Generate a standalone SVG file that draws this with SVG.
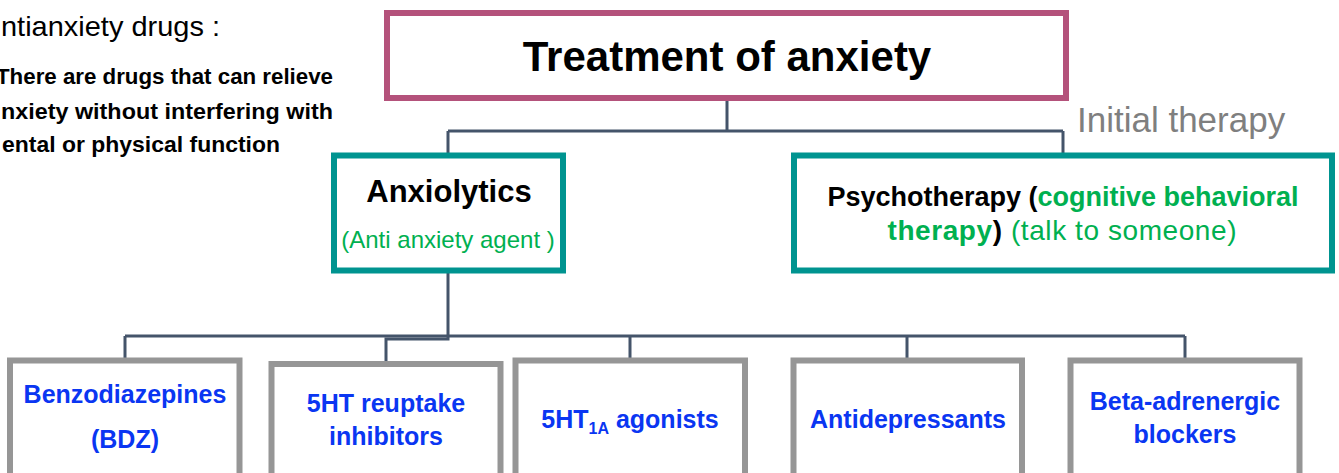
<svg xmlns="http://www.w3.org/2000/svg" width="1339" height="473" viewBox="0 0 1339 473">
<style>
text{font-family:"Liberation Sans",Arial,sans-serif}
.b{font-weight:bold}
.conn{fill:none;stroke:#44546A;stroke-width:3}
.teal{fill:#fff;stroke:#009490;stroke-width:6}
.gray{fill:#fff;stroke:#969696;stroke-width:6}
.blue{fill:#0A36F2;font-weight:bold;font-size:25px;text-anchor:middle}
.grn{fill:#00B050}
</style>
<rect width="1339" height="473" fill="#fff"/>
<g id="note">
<text x="1" y="36" font-size="28" textLength="219" lengthAdjust="spacingAndGlyphs" fill="#000">ntianxiety drugs :</text>
<text class="b" x="-4" y="84" font-size="22.5" textLength="337" lengthAdjust="spacingAndGlyphs" fill="#000">There are drugs that can relieve</text>
<text class="b" x="1" y="119" font-size="22.5" textLength="332" lengthAdjust="spacingAndGlyphs" fill="#000">nxiety without interfering with</text>
<text class="b" x="2" y="152" font-size="22.5" textLength="278" lengthAdjust="spacingAndGlyphs" fill="#000">ental or physical function</text>
</g>
<g id="connectors">
<path class="conn" d="M727,100 V131 M448,131 H1063 M448,131 V153 M1063,131 V153"/>
<path class="conn" d="M448,273 V336 M125,336 H1185 M125,336 V358 M630,336 V358 M907,336 V358 M1185,336 V358"/>
<path class="conn" d="M448,336 V339 H386 V361"/>
</g>
<g id="n-treatment">
<rect x="387" y="13" width="679" height="85" fill="#fff" stroke="#B4527B" stroke-width="6"/>
<text class="b" x="727" y="71" font-size="42" text-anchor="middle" fill="#000">Treatment of anxiety</text>
</g>
<text id="initial-therapy" x="1077" y="132" font-size="35" fill="#7F7F7F">Initial therapy</text>
<g id="n-anxiolytics">
<rect class="teal" x="334" y="155.5" width="229" height="115"/>
<text class="b" x="449" y="202" font-size="31" text-anchor="middle" fill="#000">Anxiolytics</text>
<text class="grn" x="448" y="248" font-size="24" text-anchor="middle">(Anti anxiety agent )</text>
</g>
<g id="n-psychotherapy">
<rect class="teal" x="794" y="155.5" width="538" height="115"/>
<text x="1063" y="206" font-size="27" text-anchor="middle" class="b" fill="#000">Psychotherapy (<tspan class="grn">cognitive behavioral</tspan></text>
<text x="1062" y="240" font-size="28" text-anchor="middle" textLength="349"><tspan class="b grn">therapy</tspan><tspan class="b" fill="#000">)</tspan><tspan class="grn"> (talk to someone)</tspan></text>
</g>
<g id="n-bdz">
<rect class="gray" x="10" y="360.5" width="229.5" height="130"/>
<text class="blue" x="125" y="403">Benzodiazepines</text>
<text class="blue" x="125" y="448">(BDZ)</text>
</g>
<g id="n-5ht-reuptake">
<rect class="gray" x="271.5" y="364" width="229" height="130"/>
<text class="blue" x="386" y="412">5HT reuptake</text>
<text class="blue" x="386" y="445">inhibitors</text>
</g>
<g id="n-5ht1a">
<rect class="gray" x="515.5" y="360.5" width="229.5" height="130"/>
<text class="blue" x="630" y="428">5HT<tspan font-size="16" dy="6">1A</tspan><tspan dy="-6"> agonists</tspan></text>
</g>
<g id="n-antidepressants">
<rect class="gray" x="793.5" y="360.5" width="228.5" height="130"/>
<text class="blue" x="908" y="428">Antidepressants</text>
</g>
<g id="n-beta">
<rect class="gray" x="1070.5" y="360.5" width="229" height="130"/>
<text class="blue" x="1185" y="410">Beta-adrenergic</text>
<text class="blue" x="1185" y="443">blockers</text>
</g>
</svg>
